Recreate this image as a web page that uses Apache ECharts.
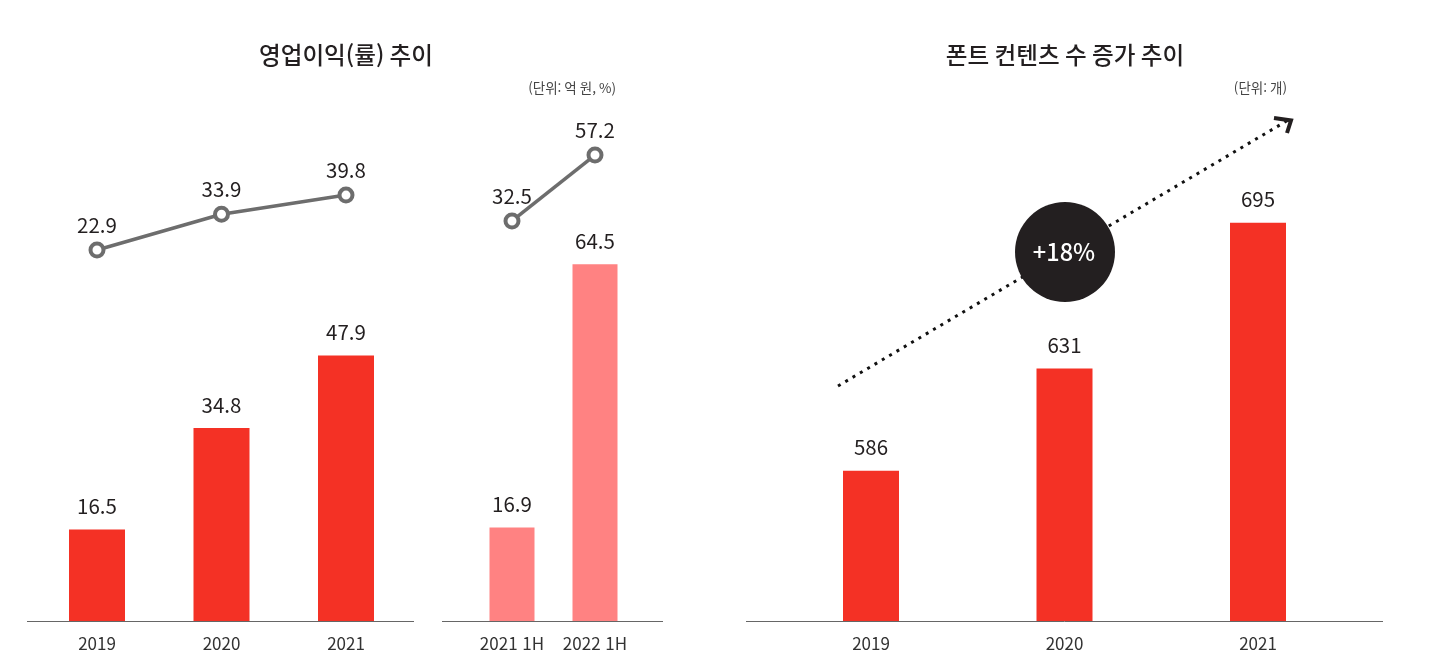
<!DOCTYPE html>
<html lang="ko">
<head>
    <meta charset="UTF-8"/>
    <title>영업이익 / 폰트 컨텐츠</title>
    <script src="https://cdn.jsdelivr.net/npm/echarts@6/dist/echarts.min.js"></script>
    <style>
        html, body { margin: 0; padding: 0; background: #fff; }
        #main { width: 1438px; height: 670px; }
    </style>
</head>
<body>
<div id="main"></div>
<script type="text/javascript">
    // data
    var yearCategories = ['2019', '2020', '2021'];
    var profitValues = [16.5, 34.8, 47.9];
    var marginValues = [22.9, 33.9, 39.8];

    var halfCategories = ['2021 1H', '2022 1H'];
    var halfProfitValues = [16.9, 64.5];
    var halfMarginValues = [32.5, 57.2];

    var contentCategories = ['2019', '2020', '2021'];
    var contentValues = [586, 631, 695];

    var titles = ['영업이익(률) 추이', '폰트 컨텐츠 수 증가 추이'];
    var units = ['(단위: 억 원, %)', '(단위: 개)'];
    var growthLabel = '+18%';

    var FONT = '"Noto Sans CJK KR", "Noto Sans", sans-serif';
    var RED = '#f43125';
    var PINK = '#ff8282';
    var GREY = '#6d6d6d';
    var INK = '#231f20';
    var BASE_Y = 621;

    function xAxis(idx, cats) {
        return {
            type: 'category', gridIndex: idx, data: cats,
            axisLine: { show: false },
            axisTick: { show: false },
            axisLabel: { color: '#333', fontFamily: FONT, fontSize: 17, margin: 14 }
        };
    }

    function yAxis(idx, min, max) {
        return { type: 'value', gridIndex: idx, min: min, max: max, show: false };
    }

    function barSeries(idx, axisIdx, values, color, width) {
        return {
            type: 'bar', xAxisIndex: idx, yAxisIndex: axisIdx, data: values,
            barWidth: width, itemStyle: { color: color }, silent: true,
            label: { show: true, position: 'top', distance: 13, color: INK, fontFamily: FONT, fontSize: 20.5 }
        };
    }

    function lineSeries(idx, axisIdx, values) {
        return {
            type: 'line', xAxisIndex: idx, yAxisIndex: axisIdx, data: values, z: 5,
            symbol: 'circle', symbolSize: 13, silent: true,
            lineStyle: { color: GREY, width: 3.5 },
            itemStyle: { color: '#fff', borderColor: GREY, borderWidth: 4 },
            label: { show: true, position: 'top', distance: 6, color: INK, fontFamily: FONT, fontSize: 20.5 }
        };
    }

    function baseline(x1, x2) {
        return {
            type: 'line', silent: true,
            shape: { x1: x1, y1: BASE_Y + 0.5, x2: x2, y2: BASE_Y + 0.5 },
            style: { stroke: '#666', lineWidth: 1 }
        };
    }

    function titleText(text, left, top, align, size, weight, color) {
        return {
            text: text, left: left, top: top, textAlign: align, padding: 0,
            textStyle: { color: color, fontFamily: FONT, fontSize: size, fontWeight: weight }
        };
    }

    var myChart = echarts.init(document.getElementById('main'), null, { renderer: 'canvas' });

    var option = {
        animation: false,
        backgroundColor: '#fff',
        title: [
            titleText(titles[0], 346, 43, 'center', 23.6, 500, INK),
            titleText(titles[1], 1065, 43, 'center', 23.6, 500, INK),
            titleText(units[0], 616, 81, 'right', 13.5, 400, '#444'),
            titleText(units[1], 1287, 81, 'right', 13.5, 400, '#444')
        ],
        grid: [
            { left: 34.75, width: 373.5, top: 100, height: 521 },
            { left: 470.5, width: 166, top: 100, height: 521 },
            { left: 774.25, width: 580.5, top: 100, height: 521 }
        ],
        xAxis: [xAxis(0, yearCategories), xAxis(1, halfCategories), xAxis(2, contentCategories)],
        yAxis: [
            yAxis(0, 0, 94), yAxis(0, -91.25, 69.05),
            yAxis(1, 0, 94.2), yAxis(1, -117.3, 77.8),
            yAxis(2, 520, 749)
        ],
        series: [
            barSeries(0, 0, profitValues, RED, 56),
            lineSeries(0, 1, marginValues),
            barSeries(1, 2, halfProfitValues, PINK, 45),
            lineSeries(1, 3, halfMarginValues),
            barSeries(2, 4, contentValues, RED, 56)
        ],
        graphic: [
            baseline(27, 414),
            baseline(442, 663),
            baseline(746, 1383),
            // growth arrow
            { type: 'line', silent: true, z: 10,
              shape: { x1: 838, y1: 386, x2: 1290, y2: 119 },
              style: { stroke: '#111', lineWidth: 3, lineDash: [3, 5.5] } },
            { type: 'polyline', silent: true, z: 10,
              shape: { points: [[1274, 118], [1291, 120.5], [1287, 133]] },
              style: { stroke: INK, lineWidth: 4, fill: null } },
            { type: 'circle', silent: true, z: 11,
              shape: { cx: 1065, cy: 252, r: 50 },
              style: { fill: INK } },
            { type: 'text', silent: true, z: 12, x: 1064, y: 252,
              style: { text: growthLabel, fill: '#fff', font: '500 23.5px ' + FONT, align: 'center', verticalAlign: 'middle' } }
        ]
    };

    myChart.setOption(option);
</script>
</body>
</html>
